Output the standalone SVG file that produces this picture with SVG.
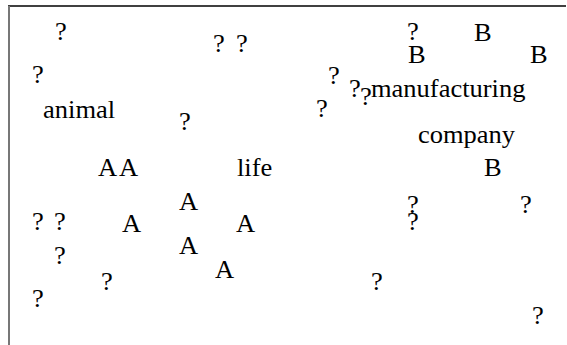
<svg xmlns="http://www.w3.org/2000/svg" width="567" height="345" viewBox="0 0 567 345">
  <style>
    text { font-family: "Liberation Serif", "Times New Roman", serif; font-size: 25px; fill: #000; }
    .frame-top { stroke: #000; stroke-width: 1.5; }
    .frame-left { stroke: #777; stroke-width: 2; }
  </style>
  <rect width="567" height="345" fill="#fff"/>
  <g id="frame">
    <line class="frame-top" x1="8" y1="6" x2="566" y2="6"/>
    <line class="frame-left" x1="9" y1="6" x2="9" y2="345"/>
  </g>
  <g id="connectors"></g>
  <!-- labels are set slightly wide: x positions are divided by the 1.06 stretch -->
  <g id="labels" transform="scale(1.06,1)">
    <text x="51.9" y="40">?</text>
    <text x="200.9" y="52">?</text>
    <text x="222.6" y="52">?</text>
    <text x="30.2" y="83">?</text>
    <text x="40.6" y="118">animal</text>
    <text x="168.9" y="130">?</text>
    <text x="309.4" y="84">?</text>
    <text x="298.1" y="117">?</text>
    <text x="384" y="40">?</text>
    <text x="447.2" y="41">B</text>
    <text x="384.9" y="63">B</text>
    <text x="500" y="63">B</text>
    <text x="329.2" y="97">?</text>
    <text x="339.6" y="105">?</text>
    <text x="350" y="97">manufacturing</text>
    <text x="394.3" y="143">company</text>
    <text x="456.6" y="176">B</text>
    <text x="92.5" y="176">A</text>
    <text x="112.3" y="176">A</text>
    <text x="223.6" y="176">life</text>
    <text x="168.9" y="210">A</text>
    <text x="30.2" y="230">?</text>
    <text x="50.9" y="230">?</text>
    <text x="115.1" y="232">A</text>
    <text x="222.6" y="232">A</text>
    <text x="50.9" y="264">?</text>
    <text x="168.9" y="254">A</text>
    <text x="202.8" y="278">A</text>
    <text x="95.3" y="290">?</text>
    <text x="30.2" y="307">?</text>
    <text x="384" y="213">?</text>
    <text x="384" y="230">?</text>
    <text x="490.6" y="213">?</text>
    <text x="350" y="290">?</text>
    <text x="501.9" y="324">?</text>
  </g>
</svg>
